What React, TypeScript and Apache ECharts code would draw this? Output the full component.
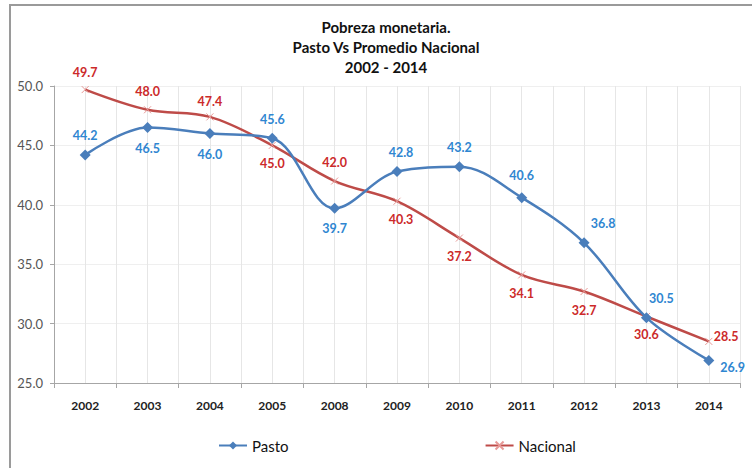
import React, { useEffect, useRef } from "react";
import * as echarts from "echarts";

const years = ["2002", "2003", "2004", "2005", "2008", "2009", "2010", "2011", "2012", "2013", "2014"];
const pasto = [44.2, 46.5, 46.0, 45.6, 39.7, 42.8, 43.2, 40.6, 36.8, 30.5, 26.9];
const nacional = [49.7, 48.0, 47.4, 45.0, 42.0, 40.3, 37.2, 34.1, 32.7, 30.6, 28.5];
const titleLines = ["Pobreza monetaria.", "Pasto Vs Promedio Nacional", "2002 - 2014"];

const FONT = "Lato, 'Open Sans', sans-serif";

// label placement per point (styling only)
const pastoLabelCfg: any[] = [
  { position: "top" },
  { position: "bottom", distance: 9 },
  { position: "bottom", distance: 9 },
  { position: "top" },
  { position: "bottom", distance: 8 },
  { position: "top", offset: [4, 0] },
  { position: "top" },
  { position: "top", distance: 10 },
  { position: "top", offset: [19, 0] },
  { position: "top", offset: [15, 0] },
  { position: "right", distance: 6, offset: [0, 7] },
];
const nacionalLabelCfg: any[] = [
  { position: "top" },
  { position: "top", distance: 8 },
  { position: "top", distance: 5 },
  { position: "bottom", distance: 8 },
  { position: "top", distance: 8 },
  { position: "bottom", distance: 8, offset: [4, 0] },
  { position: "bottom", distance: 8 },
  { position: "bottom", distance: 8 },
  { position: "bottom", distance: 8 },
  { position: "bottom", distance: 8 },
  { position: "right", distance: 1, offset: [0, -5] },
];

export default function App() {
  const ref = useRef<HTMLDivElement>(null);
  useEffect(() => {
    if (!ref.current) return;
    const chart = echarts.init(ref.current, undefined, { renderer: "svg" });
    const option: any = {
      animation: false,
      backgroundColor: "#ffffff",
      textStyle: { fontFamily: FONT },
      graphic: [
        {
          type: "rect",
          z: -10,
          silent: true,
          shape: { x: 10, y: 5, width: 800, height: 520 },
          style: { fill: "#ffffff", stroke: "#9a9a9a", lineWidth: 2 },
        },
        {
          type: "text",
          x: 386,
          y: 17,
          silent: true,
          style: {
            text: titleLines.join("\n"),
            textAlign: "center",
            textVerticalAlign: "top",
            fontFamily: FONT,
            fontWeight: "bold",
            fontSize: 15,
            lineHeight: 20,
            fill: "#111111",
          },
        },
      ],
      legend: {
        bottom: 10,
        left: 213,
        itemGap: 196,
        itemWidth: 28,
        itemHeight: 10,
        textStyle: { fontSize: 15, color: "#111", fontFamily: FONT },
        data: [{ name: "Pasto" }, { name: "Nacional" }],
      },
      grid: { left: 54, right: 12, top: 86, bottom: 85 },
      xAxis: [
        {
          type: "category",
          data: years,
          boundaryGap: true,
          axisLine: { lineStyle: { color: "#a6a6a6", width: 1 } },
          axisTick: { show: true, length: 5, lineStyle: { color: "#a6a6a6" } },
          axisLabel: { fontSize: 12, fontWeight: "bold", color: "#222", margin: 16, fontFamily: FONT },
          splitLine: { show: false },
        },
        {
          type: "value",
          min: 0,
          max: 22,
          interval: 1,
          show: true,
          position: "top",
          axisLine: { show: false },
          axisTick: { show: false },
          axisLabel: { show: false },
          splitLine: { show: true, lineStyle: { color: "#e6e6e6", width: 1 } },
        },
      ],
      yAxis: {
        type: "value",
        min: 25,
        max: 50,
        interval: 5,
        axisLine: { show: true, lineStyle: { color: "#a6a6a6" } },
        axisTick: { show: true, length: 4, lineStyle: { color: "#a6a6a6" } },
        axisLabel: {
          fontSize: 13,
          color: "#555",
          margin: 11,
          fontFamily: FONT,
          formatter: (v: number) => v.toFixed(1),
        },
        splitLine: { show: true, lineStyle: { color: "#efefef" } },
      },
      series: [
        {
          name: "Pasto",
          type: "line",
          xAxisIndex: 0,
          smooth: 0.35,
          symbol: "diamond",
          symbolSize: 11,
          lineStyle: { color: "#4a7ebb", width: 2.5 },
          itemStyle: { color: "#4a7ebb" },
          label: {
            show: true,
            color: "#2f86d1",
            fontWeight: "bold",
            fontSize: 12.5,
            fontFamily: FONT,
            distance: 7,
            formatter: (p: any) => Number(p.value).toFixed(1),
          },
          data: pasto.map((v, i) => ({ value: v, label: pastoLabelCfg[i] })),
          z: 3,
        },
        {
          name: "Nacional",
          type: "line",
          xAxisIndex: 0,
          smooth: 0.35,
          symbol: "path://M0 0L10 10M10 0L0 10",
          symbolSize: 7,
          lineStyle: { color: "#be4b48", width: 2.5 },
          itemStyle: { color: "#be4b48", borderColor: "#e79a98", borderWidth: 1 },
          label: {
            show: true,
            color: "#cc2a2a",
            fontWeight: "bold",
            fontSize: 12.5,
            fontFamily: FONT,
            distance: 7,
            formatter: (p: any) => Number(p.value).toFixed(1),
          },
          data: nacional.map((v, i) => ({ value: v, label: nacionalLabelCfg[i] })),
          z: 2,
        },
      ],
    };
    chart.setOption(option);
    return () => chart.dispose();
  }, []);
  return (
    <div
      ref={ref}
      style={{ position: "fixed", left: 0, top: 0, width: 752, height: 468 }}
    />
  );
}
